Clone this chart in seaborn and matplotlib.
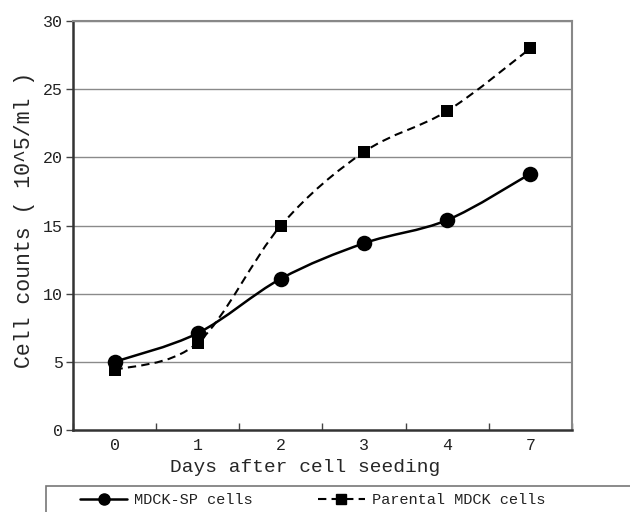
import numpy as np
import pandas as pd
import matplotlib
matplotlib.use("Agg")
from matplotlib import pyplot as plt
from matplotlib.path import Path
from matplotlib.patches import PathPatch, Rectangle
from matplotlib.lines import Line2D
import seaborn as sns

days = ['0', '1', '2', '3', '4', '7']
mdck_sp = [5.0, 7.1, 11.1, 13.7, 15.4, 18.8]
parental = [4.4, 6.4, 15.0, 20.4, 23.4, 28.0]
y_ticks = [0, 5, 10, 15, 20, 25, 30]


def smooth_path(xs, ys):
    # Excel-style smoothed line: cubic bezier through every data point
    pts = np.column_stack([xs, ys]).astype(float)
    ext = np.vstack([pts[0], pts, pts[-1]])
    verts = [pts[0]]
    codes = [Path.MOVETO]
    for i in range(len(pts) - 1):
        p0, p1, p2, p3 = ext[i], ext[i + 1], ext[i + 2], ext[i + 3]
        verts += [p1 + (p2 - p0) / 6, p2 - (p3 - p1) / 6, p2]
        codes += [Path.CURVE4] * 3
    return Path(verts, codes)


sns.set_theme(style='white')
plt.rcParams['font.family'] = ['Liberation Mono', 'DejaVu Sans Mono']
plt.rcParams['text.color'] = '#222222'

df = pd.DataFrame({'pos': np.arange(len(days)), 'sp': mdck_sp, 'par': parental})

fig = plt.figure(figsize=(6.3, 5.12), dpi=100)
ax = fig.add_axes([73 / 630, 1 - 430 / 512, 499 / 630, 409 / 512])

for y in y_ticks[1:]:
    ax.axhline(y, color='#8a8a8a', linewidth=1.0, zorder=0)

ax.add_patch(PathPatch(smooth_path(df['pos'], df['par']), fill=False,
                       edgecolor='black', linewidth=1.5,
                       linestyle=(0, (4, 2.5)), zorder=2))
ax.add_patch(PathPatch(smooth_path(df['pos'], df['sp']), fill=False,
                       edgecolor='black', linewidth=1.8, zorder=3))

sns.scatterplot(data=df, x='pos', y='par', marker='s', s=72, color='black',
                edgecolor='black', linewidth=0, ax=ax, zorder=4)
sns.scatterplot(data=df, x='pos', y='sp', marker='o', s=125, color='black',
                edgecolor='black', linewidth=0, ax=ax, zorder=5)

ax.set_xlim(-0.5, len(days) - 0.5)
ax.set_ylim(0, 30)
ax.set_yticks(y_ticks)
ax.set_yticklabels([str(v) for v in y_ticks], fontsize=12)
ax.set_xticks(np.arange(len(days)))
ax.set_xticklabels(days, fontsize=12)
ax.set_xticks(np.arange(len(days) + 1) - 0.5, minor=True)
ax.tick_params(axis='x', which='major', length=0, pad=6, colors='#222222')
ax.tick_params(axis='x', which='minor', direction='in', length=5,
               width=1, color='#444444', bottom=True)
ax.tick_params(axis='y', direction='out', length=5, width=1,
               color='#444444', left=True, pad=2, colors='#222222')
ax.tick_params(axis='y', which='major', color='#444444')

ax.set_xlabel('Days after cell seeding', fontsize=14, labelpad=4)
ax.set_ylabel('Cell counts ( 10^5/ml )', fontsize=15.5, labelpad=6)
ax.xaxis.label.set_x(0.465)
ax.yaxis.label.set_y(0.513)

for side in ['left', 'bottom']:
    ax.spines[side].set_color('#333333')
    ax.spines[side].set_linewidth(1.8)
for side in ['right', 'top']:
    ax.spines[side].set_color('#888888')
    ax.spines[side].set_linewidth(1.5)

fig.patches.append(Rectangle((46 / 630, -0.2), 1.2, 0.2 + 26 / 512,
                             transform=fig.transFigure, fill=False,
                             edgecolor='#777777', linewidth=1.2))

handles = [
    Line2D([], [], color='black', linewidth=1.8, marker='o', markersize=8),
    Line2D([], [], color='black', linewidth=1.5, linestyle=(0, (4, 2.5)),
           marker='s', markersize=7),
]
fig.legend(handles, ['MDCK-SP cells', 'Parental MDCK cells'],
           loc='center left', bbox_to_anchor=(80 / 630, 1 - 500 / 512),
           ncol=2, frameon=False, fontsize=11, handlelength=3.1,
           handletextpad=0.45, columnspacing=4.25, borderaxespad=0,
           borderpad=0)

fig.savefig('out.png', dpi=100)
